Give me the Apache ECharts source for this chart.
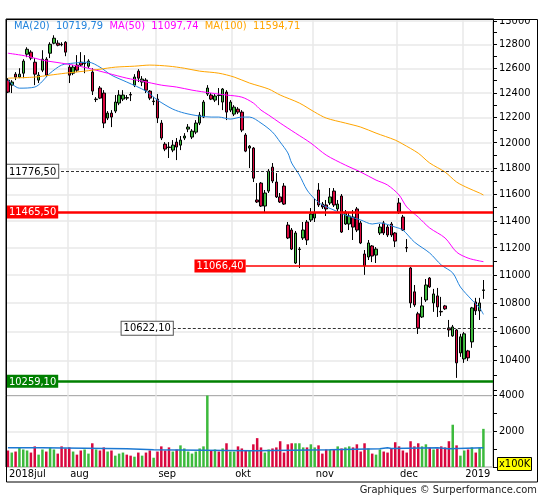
<!DOCTYPE html>
<html>
<head>
    <meta charset="utf-8">
    <title>DAX</title>
    <script src="https://cdn.jsdelivr.net/npm/echarts@6/dist/echarts.min.js"></script>
    <style>
        html, body { margin: 0; padding: 0; background: #fff; }
        #main { width: 545px; height: 500px; }
    </style>
</head>
<body>
<div id="main"></div>
<script type="text/javascript">
var FONT = "'DejaVu Sans Condensed', 'DejaVu Sans', sans-serif";
var UP = '#3dba3d', DOWN = '#d9073e';

// daily candles: open, close, low, high
var candles = [
    [12504,12406,12398,12520],[12463,12488,12398,12504],[12553,12529,12504,12570],[12529,12553,12520,12602],
    [12561,12661,12520,12677],[12719,12760,12694,12777],[12736,12686,12669,12752],[12652,12553,12463,12686],
    [12504,12545,12480,12570],[12586,12677,12570,12752],[12677,12545,12529,12694],[12727,12802,12686,12819],
    [12811,12853,12802,12878],[12811,12794,12785,12836],[12802,12798,12785,12819],[12819,12736,12702,12828],
    [12611,12545,12480,12628],[12561,12611,12545,12628],[12628,12586,12570,12711],[12652,12628,12619,12736],
    [12640,12644,12561,12711],[12619,12661,12602,12677],[12570,12414,12382,12602],[12345,12349,12325,12365],
    [12439,12357,12349,12455],[12398,12156,12116,12422],[12196,12236,12180,12252],[12236,12204,12124,12260],
    [12252,12325,12236,12382],[12317,12382,12300,12422],[12349,12382,12333,12422],[12361,12357,12341,12382],
    [12386,12382,12333,12406],[12463,12529,12447,12553],[12578,12520,12488,12594],[12488,12512,12455,12537],
    [12504,12422,12398,12520],[12414,12357,12341,12422],[12329,12333,12300,12365],[12349,12196,12156,12390],
    [12156,12037,12021,12180],[11989,11950,11934,12005],[11966,11962,11880,12005],[11942,11981,11926,12021],
    [12005,11966,11864,12037],[11981,12021,11942,12053],[12037,12053,12021,12076],[12108,12124,12084,12148],
    [12045,12092,12029,12108],[12084,12156,12068,12180],[12156,12220,12140,12244],[12204,12325,12196,12341],
    [12390,12439,12374,12463],[12382,12349,12341,12398],[12341,12374,12325,12390],[12382,12378,12300,12439],
    [12325,12431,12260,12439],[12406,12244,12180,12422],[12260,12325,12244,12341],[12228,12284,12212,12300],
    [12268,12244,12228,12284],[12244,12100,12084,12260],[12061,11934,11926,12076],[11958,11973,11802,11981],
    [11958,11724,11694,11966],[11557,11542,11534,11686],[11686,11511,11504,11694],[11511,11610,11466,11633],
    [11625,11778,11610,11794],[11809,11702,11686,11841],[11694,11580,11572,11763],[11580,11542,11534,11610],
    [11663,11526,11519,11686],[11368,11272,11264,11391],[11331,11190,11183,11346],[11088,11309,11081,11324],
    [11187,11190,11052,11205],[11272,11331,11257,11391],[11391,11257,11220,11406],[11406,11451,11391,11496],
    [11421,11459,11391,11565],[11633,11519,11504,11686],[11526,11504,11489,11542],[11519,11489,11436,11557],
    [11534,11580,11519,11648],[11625,11519,11504,11648],[11489,11526,11474,11557],[11587,11316,11309,11602],
    [11376,11466,11369,11481],[11376,11436,11331,11466],[11428,11353,11257,11481],[11489,11331,11316,11504],
    [11384,11235,11227,11399],[11154,11067,11002,11183],[11132,11235,11110,11257],[11213,11139,11095,11220],
    [11146,11190,11088,11205],[11309,11353,11294,11376],[11384,11309,11294,11399],[11353,11294,11279,11369],
    [11376,11294,11279,11391],[11309,11249,11205,11316],[11534,11466,11451,11572],[11428,11331,11324,11444],
    [11201,11198,11168,11264],[11052,10801,10766,11059],[10880,10787,10773,10929],[10724,10625,10583,10738],
    [10702,10780,10695,10844],[10822,10929,10808,10972],[10979,10915,10908,10986],[10801,10865,10738,10901],
    [10851,10773,10702,10908],[10741,10738,10709,10844],[10780,10759,10752,10787],[10625,10611,10563,10681],
    [10570,10632,10563,10646],[10611,10384,10282,10618],[10452,10563,10425,10584],[10411,10584,10384,10597],
    [10466,10418,10397,10473],[10528,10766,10487,10773],[10808,10745,10716,10837],[10745,10801,10681,10837],
    [10890,10894,10830,10965]
];

// volume, in units of 100K
var volume = [
    923,808,865,1077,981,923,808,1154,692,981,865,1096,981,750,1154,1038,1096,865,692,923,
    981,750,1327,981,923,1096,865,923,635,750,808,692,635,577,808,635,808,923,519,865,
    1154,923,1096,865,981,1211,1038,865,750,865,1038,1154,4300,923,981,865,1038,1327,865,865,
    1154,1038,900,923,1269,1615,1096,808,981,1038,1096,1442,808,1269,1327,1327,1327,1096,1096,1269,
    1096,1211,750,981,981,981,1154,1038,1096,1154,1096,1269,865,1327,1038,750,692,981,865,808,
    1038,1385,1154,923,808,1442,1154,1327,1154,1269,1096,981,1038,1154,1096,1442,2365,1211,635,923,
    981,1096,808,1096,2134
];

// volume average, read where it steps: [day, value]
var volumeAvg = [[0,1077],[9,1019],[31,961],[38,904],[64,961],[84,1019],[97,1077],[99,1040],[100,1077],[112,1019],[115,1077],[124,1077]];

// moving averages: [day, value]
var ma20 = [[0,12504],[3,12438],[7,12447],[11,12561],[14,12628],[17,12644],[21,12652],[24,12611],[27,12545],[31,12488],
    [36,12414],[39,12341],[43,12268],[46,12236],[50,12212],[53,12204],[55,12204],[58,12188],[61,12204],[63,12204],
    [66,12156],[69,12084],[71,12005],[73,11920],[74,11841],[76,11748],[78,11633],[80,11565],[82,11519],[85,11481],
    [88,11443],[92,11406],[95,11376],[97,11384],[101,11353],[103,11331],[106,11242],[110,11161],[113,11074],[116,11016],
    [118,10915],[121,10822],[123,10766],[124,10720]];
var ma50 = [[0,12727],[5,12702],[9,12669],[14,12644],[17,12628],[21,12602],[26,12561],[31,12520],[35,12496],[40,12463],
    [44,12447],[48,12422],[53,12398],[57,12382],[61,12365],[64,12317],[66,12260],[68,12220],[71,12156],[75,12076],
    [79,11997],[83,11903],[88,11825],[92,11771],[96,11709],[99,11671],[102,11595],[104,11504],[107,11428],[110,11346],
    [114,11272],[117,11168],[120,11124],[123,11103],[124,11098]];
var ma100 = [[0,12520],[7,12529],[11,12545],[15,12561],[20,12578],[24,12594],[28,12611],[33,12619],[37,12628],[42,12619],
    [46,12602],[50,12578],[55,12561],[59,12529],[63,12480],[68,12431],[71,12382],[76,12317],[80,12244],[83,12196],
    [88,12156],[92,12124],[96,12076],[101,12021],[103,11989],[107,11918],[110,11841],[114,11771],[117,11694],[120,11648],
    [123,11610],[124,11595]];
var maNames = ['MA(20)', 'MA(50)', 'MA(100)'];
var maLast = [10719.79, 11097.74, 11594.71];

// horizontal levels and the day each one starts
var levels = [11776.50, 11465.50, 11066.40, 10622.10, 10259.10];
var levelFrom = [0, 0, 62, 43, 0];

var priceTicks = [10400,10600,10800,11000,11200,11400,11600,11800,12000,12200,12400,12600,12800,13000];
var priceMinor = [10200,10300,10500,10700,10900,11100,11300,11500,11700,11900,12100,12300,12500,12700,12900];
var monthStarts = [0, 16, 39, 59, 80, 102, 119];
var monthNames = ['2018jul', 'aug', 'sep', 'okt', 'nov', 'dec', '2019'];

var N = 127;            // 125 days plus two empty slots before the axis
var cats = [];
for (var i = 0; i < N; i++) cats.push(String(i));

var maColors = ['#2283dc', '#ff00ff', '#ffa500'];
var levelLook = [
    { line: { color: '#333', width: 1, type: [3, 2] }, label: { color: '#000', backgroundColor: '#fff', borderColor: '#555', borderWidth: 1 } },
    { line: { color: '#ff0000', width: 2.5, type: 'solid' }, label: { color: '#fff', backgroundColor: '#ff0000' } },
    { line: { color: '#ff0000', width: 1.5, type: 'solid' }, label: { color: '#fff', backgroundColor: '#ff0000' } },
    { line: { color: '#333', width: 1, type: [3, 2] }, label: { color: '#000', backgroundColor: '#fff', borderColor: '#555', borderWidth: 1 } },
    { line: { color: '#008000', width: 2.5, type: 'solid' }, label: { color: '#fff', backgroundColor: '#008000' } }
];

function fmt2(v) { return v.toFixed(2).replace('.', ','); }

var gridLeft = 6, gridRight = 52;
var plotRightX = 545 - gridRight;

var levelLines = levels.map(function (v, i) {
    var look = levelLook[i];
    var label = Object.assign({
        show: true, formatter: fmt2(v), fontFamily: FONT, fontSize: 11,
        lineHeight: 12, padding: [1, 2, 0, 2]
    }, look.label);
    if (levelFrom[i] === 0) {
        label.position = 'insideStartTop';
        label.distance = [1, -6.5];
        return { yAxis: v, lineStyle: look.line, label: label };
    }
    label.position = 'start';
    label.distance = 0;
    return [{ coord: [levelFrom[i], v], lineStyle: look.line, label: label },
            { coord: [N - 1, v], x: plotRightX }];
});

var volumeBars = volume.map(function (v, i) {
    return { value: v, itemStyle: { color: candles[i][1] >= candles[i][0] ? UP : DOWN } };
});

var legendRich = {};
maColors.forEach(function (c, i) { legendRich['m' + i] = { color: c, fontSize: 11, fontFamily: FONT }; });
var legendText = maNames.map(function (n, i) {
    return '{m' + i + '|' + n + '  ' + fmt2(maLast[i]) + '}';
}).join('  ');

function isMonth(idx) { return monthStarts.indexOf(idx) > 0; }
var gridLine = { show: true, lineStyle: { color: '#e9e9e9', width: 1.5 } };

var myChart = echarts.init(document.getElementById('main'));
var option = {
    animation: false,
    backgroundColor: '#fff',
    textStyle: { fontFamily: FONT },
    title: [
        { text: legendText, left: 14, top: 21, padding: 0, textStyle: { fontSize: 11, fontWeight: 'normal', rich: legendRich } },
        { text: 'Graphiques © Surperformance.com', right: 8, top: 485, padding: 0,
          textStyle: { fontSize: 11, fontWeight: 'normal', color: '#222', fontFamily: FONT } },
        { text: 'x100K', left: 497, top: 457, padding: [1, 2, 0, 2], backgroundColor: '#ffff00', borderColor: '#000', borderWidth: 1,
          textStyle: { fontSize: 11, fontWeight: 'normal', color: '#000', fontFamily: FONT, lineHeight: 13 } }
    ],
    grid: [
        { left: gridLeft, right: gridRight, top: 19, height: 376.5, show: true, borderColor: '#000', borderWidth: 1, outerBoundsMode: 'none' },
        { left: gridLeft, right: gridRight, top: 395.5, height: 71.5, show: true, borderColor: '#000', borderWidth: 1, outerBoundsMode: 'none' }
    ],
    xAxis: [
        { type: 'category', gridIndex: 0, data: cats, boundaryGap: true,
          axisLine: { show: false }, axisTick: { show: false }, axisLabel: { show: false },
          splitLine: Object.assign({ interval: isMonth }, gridLine) },
        { type: 'category', gridIndex: 1, data: cats, boundaryGap: true,
          axisLine: { show: false }, axisTick: { show: false },
          axisLabel: {
              show: true, align: 'left', margin: 2, padding: [0, 0, 0, 1], color: '#000', fontSize: 11, fontFamily: FONT,
              interval: function (idx) { return monthStarts.indexOf(idx) >= 0; },
              formatter: function (val, idx) { return monthNames[monthStarts.indexOf(idx)] || ''; }
          },
          splitLine: Object.assign({ interval: isMonth }, gridLine) }
    ],
    yAxis: [
        { type: 'log', logBase: 10, gridIndex: 0, position: 'right', min: 10163.7, max: 13016.3,
          axisLine: { show: true, lineStyle: { color: '#000' } },
          axisTick: { show: true, length: 4, customValues: priceTicks, lineStyle: { color: '#000' } },
          axisLabel: { customValues: priceTicks, margin: 6, color: '#000', fontSize: 11, fontFamily: FONT,
                       formatter: function (v) { return String(Math.round(v)); } },
          splitLine: gridLine },
        { type: 'log', logBase: 10, gridIndex: 0, position: 'right', min: 10163.7, max: 13016.3,
          axisLine: { show: false }, axisLabel: { show: false }, splitLine: { show: false },
          axisTick: { show: true, length: 4, customValues: priceMinor, lineStyle: { color: '#000' } } },
        { type: 'value', gridIndex: 1, position: 'right', min: 0, max: 4000, interval: 2000,
          axisLine: { show: true, lineStyle: { color: '#000' } },
          axisTick: { show: true, length: 4, lineStyle: { color: '#000' } },
          minorTick: { show: true, splitNumber: 2, length: 4, lineStyle: { color: '#000' } },
          axisLabel: { showMinLabel: false, margin: 6, color: '#000', fontSize: 11, fontFamily: FONT,
                       formatter: function (v) { return String(v); } },
          splitLine: gridLine }
    ],
    series: [
        { type: 'candlestick', xAxisIndex: 0, yAxisIndex: 0, data: candles, barWidth: 3, z: 3,
          itemStyle: { color: UP, color0: DOWN, borderColor: '#000', borderColor0: '#000', borderWidth: 1 },
          markLine: { silent: true, symbol: ['none', 'none'], animation: false, data: levelLines } },
        { type: 'line', name: maNames[0], xAxisIndex: 0, yAxisIndex: 0, data: ma20, showSymbol: false, smooth: 0.3, z: 4,
          lineStyle: { color: maColors[0], width: 1 } },
        { type: 'line', name: maNames[1], xAxisIndex: 0, yAxisIndex: 0, data: ma50, showSymbol: false, smooth: 0.3, z: 4,
          lineStyle: { color: maColors[1], width: 1 } },
        { type: 'line', name: maNames[2], xAxisIndex: 0, yAxisIndex: 0, data: ma100, showSymbol: false, smooth: 0.3, z: 4,
          lineStyle: { color: maColors[2], width: 1 } },
        { type: 'bar', xAxisIndex: 1, yAxisIndex: 2, data: volumeBars, barWidth: 2.5, clip: true },
        { type: 'line', xAxisIndex: 1, yAxisIndex: 2, data: volumeAvg, step: 'end', showSymbol: false, z: 4,
          lineStyle: { color: '#1c78d2', width: 1.5 } }
    ],
    graphic: [
        { type: 'rect', z: 100, shape: { x: 494, y: 0, width: 51, height: 19 }, style: { fill: '#fff' } },
        { type: 'rect', z: 101, shape: { x: 6.5, y: 19.5, width: 531, height: 462.5 }, style: { fill: 'none', stroke: '#000', lineWidth: 1 } }
    ]
};
myChart.setOption(option);
</script>
</body>
</html>
